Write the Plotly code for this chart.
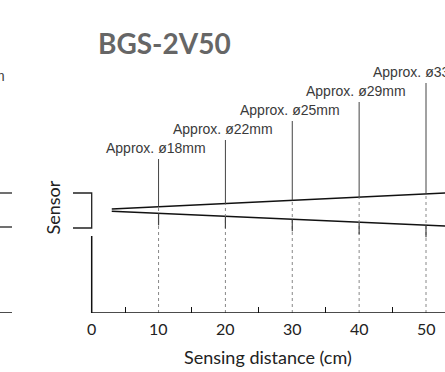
import numpy as np
import plotly.graph_objects as go

# ---- data ----
distances_cm = [10, 20, 30, 40, 50]
spot_diam_mm = [18, 22, 25, 29, 33]
x_ticks = [0, 10, 20, 30, 40, 50]
minor_ticks = [5, 15, 25, 35, 45]
beam_x = [3, 52.9]          # sensing distance (cm) along the beam
beam_upper = [1, 17]        # schematic beam edge (arbitrary units)
beam_lower = [-1.3, -16]
title_text = "BGS-2V50"
xlabel = "Sensing distance (cm)"
sensor_label = "Sensor"

W, H = 445, 372
X0_PX, PX_PER_CM = 91.7, 6.686
xr = [-X0_PX / PX_PER_CM, (W - X0_PX) / PX_PER_CM]
B = 59
PLOT_H = H - B
yr = [-103, 210]

def px2y(py):
    return 210 - py

def px2py(py):  # pixel row -> paper y (plot-area relative)
    return (PLOT_H - py) / PLOT_H

fig = go.Figure()

fig.add_trace(go.Scatter(x=beam_x, y=beam_upper, mode="lines",
                         line=dict(color="#111", width=1.5), hoverinfo="skip"))
fig.add_trace(go.Scatter(x=beam_x, y=beam_lower, mode="lines",
                         line=dict(color="#111", width=1.5), hoverinfo="skip"))

shapes = []
annotations = []
y_axis = yr[0]
for i, (d, dia) in enumerate(zip(distances_cm, spot_diam_mm)):
    up = float(np.interp(d, beam_x, beam_upper))
    lo = float(np.interp(d, beam_x, beam_lower))
    label_y = px2y(148 - 19 * i)
    top = label_y - 11
    shapes.append(dict(type="line", x0=d, x1=d, y0=y_axis, y1=up, xref="x", yref="y",
                       line=dict(color="#888", width=1, dash="dot")))
    shapes.append(dict(type="line", x0=d, x1=d, y0=top, y1=up, xref="x", yref="y",
                       line=dict(color="#444", width=1)))
    shapes.append(dict(type="line", x0=d, x1=d, y0=lo, y1=lo - 12, xref="x", yref="y",
                       line=dict(color="#444", width=1.2)))
    annotations.append(dict(x=d - 0.4, y=label_y, xref="x", yref="y", showarrow=False,
                            text=f"Approx. ø{dia}mm", xanchor="center", yanchor="middle",
                            font=dict(family="Liberation Sans", size=14, color="#3a3a3a")))

bx = (73 - X0_PX) / PX_PER_CM
shapes.append(dict(type="path", xref="x", yref="y",
                   path=f"M {bx},{px2y(193)} L 0,{px2y(193)} L 0,{px2y(228)} L {bx},{px2y(228)}",
                   line=dict(color="#222", width=1.3)))
shapes.append(dict(type="line", x0=0, x1=0, y0=px2y(236), y1=y_axis, xref="x", yref="y",
                   line=dict(color="#111", width=1.5)))
shapes.append(dict(type="line", x0=0, x1=xr[1], y0=y_axis, y1=y_axis, xref="x", yref="y",
                   line=dict(color="#111", width=1.5)))
fx1 = xr[0] + 12 / PX_PER_CM
for py in (193, 227):
    shapes.append(dict(type="line", x0=xr[0], x1=fx1, y0=px2y(py), y1=px2y(py), xref="x", yref="y",
                       line=dict(color="#222", width=1.3)))
shapes.append(dict(type="line", x0=xr[0], x1=fx1, y0=y_axis, y1=y_axis, xref="x", yref="y",
                   line=dict(color="#111", width=1.5)))
annotations.append(dict(x=7 / W, y=px2py(76), xref="paper", yref="paper", yanchor="middle",
                        xanchor="right", showarrow=False, text="Approx. ø33mm",
                        font=dict(family="Liberation Sans", size=14, color="#3a3a3a")))

annotations.append(dict(x=164 / W, y=px2py(43), xref="paper", yref="paper", showarrow=False,
                        text=f"<b>{title_text}</b>", xanchor="center", yanchor="middle",
                        font=dict(family="Lato", size=28, color="#666")))
annotations.append(dict(x=(52 - X0_PX) / PX_PER_CM, y=px2y(207.5), xref="x", yref="y",
                        showarrow=False, text=sensor_label, textangle=-90,
                        font=dict(family="Lato", size=18, color="#222")))
annotations.append(dict(x=268 / W, y=px2py(357), xref="paper", yref="paper",
                        showarrow=False, text=xlabel, xanchor="center", yanchor="middle",
                        font=dict(family="Lato", size=18, color="#222")))
for t in x_ticks:
    annotations.append(dict(x=t, y=px2py(328), xref="x", yref="paper", showarrow=False,
                            text=str(t), xanchor="center", yanchor="middle",
                            font=dict(family="Lato", size=16, color="#222")))

fig.update_layout(
    width=W, height=H,
    margin=dict(l=0, r=0, t=0, b=B),
    paper_bgcolor="white", plot_bgcolor="white",
    showlegend=False,
    shapes=shapes, annotations=annotations,
    xaxis=dict(range=xr, showgrid=False, zeroline=False, showline=False,
               tickvals=minor_ticks, ticks="inside", ticklen=6, tickcolor="#111",
               tickwidth=1.2, showticklabels=False),
    yaxis=dict(range=yr, showgrid=False, zeroline=False, showline=False,
               showticklabels=False, ticks=""),
)

fig.write_html("out.html", config={"displayModeBar": False},
               post_script="document.body.style.margin='0';document.body.style.overflow='hidden';")
